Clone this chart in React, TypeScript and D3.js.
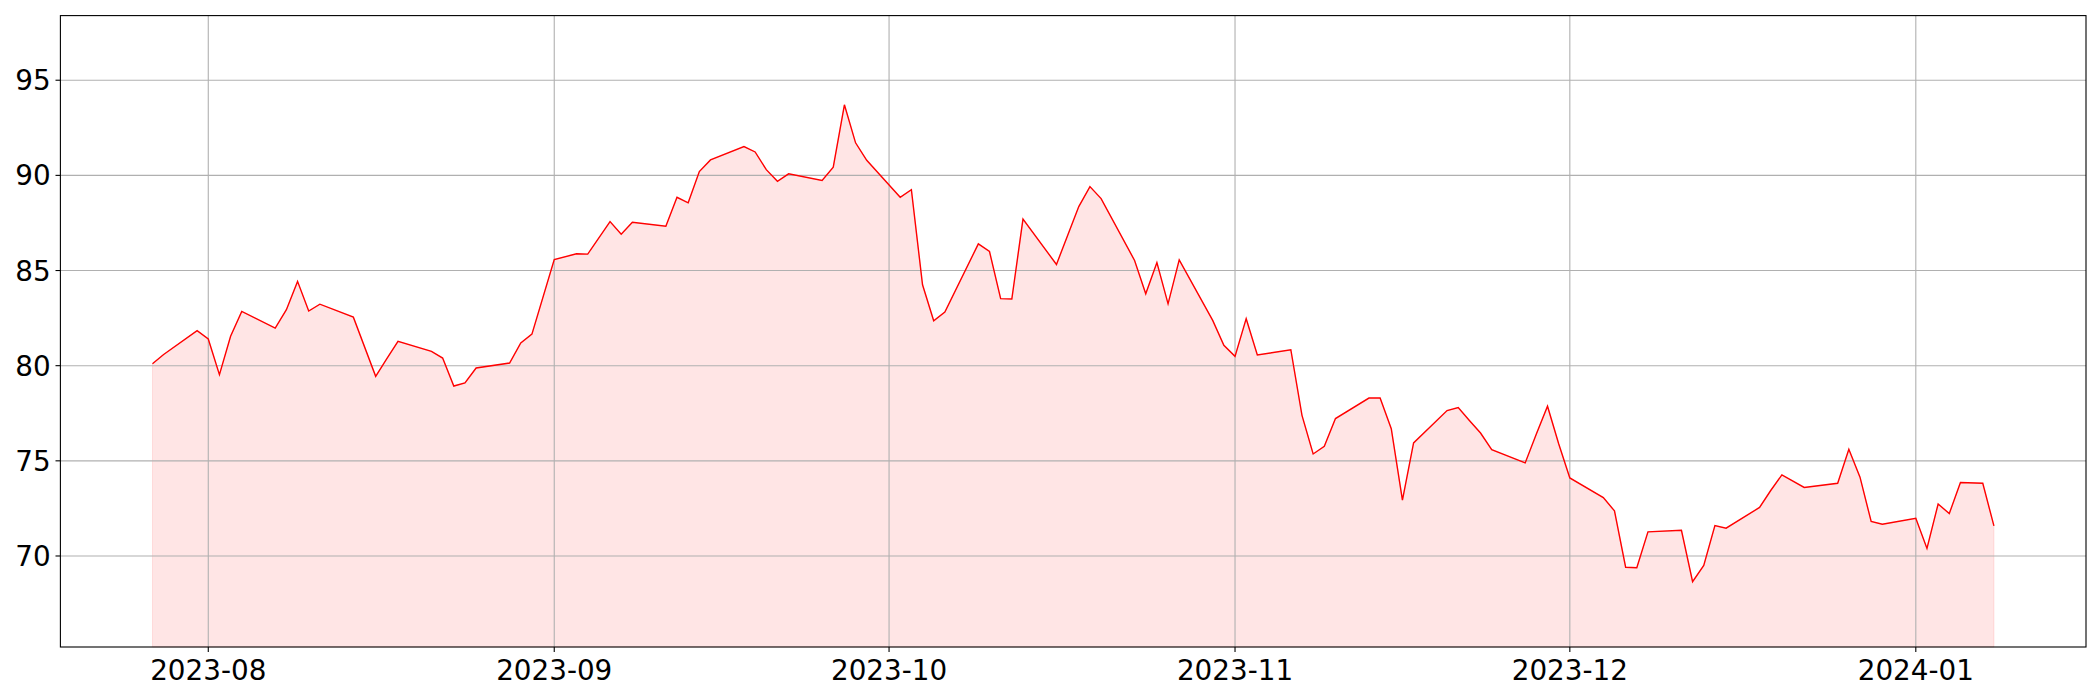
import React from "react";
import * as d3 from "d3";

const dates: string[] = [
  "2023-07-27","2023-07-28","2023-07-31","2023-08-01","2023-08-02","2023-08-03","2023-08-04",
  "2023-08-07","2023-08-08","2023-08-09","2023-08-10","2023-08-11","2023-08-14","2023-08-16",
  "2023-08-17","2023-08-18","2023-08-21","2023-08-22","2023-08-23","2023-08-24","2023-08-25",
  "2023-08-28","2023-08-29","2023-08-30","2023-09-01","2023-09-03","2023-09-04","2023-09-06",
  "2023-09-07","2023-09-08","2023-09-11","2023-09-12","2023-09-13","2023-09-14","2023-09-15",
  "2023-09-18","2023-09-19","2023-09-20","2023-09-21","2023-09-22","2023-09-25","2023-09-26",
  "2023-09-27","2023-09-28","2023-09-29","2023-10-02","2023-10-03","2023-10-04","2023-10-05",
  "2023-10-06","2023-10-09","2023-10-10","2023-10-11","2023-10-12","2023-10-13","2023-10-16",
  "2023-10-17","2023-10-18","2023-10-19","2023-10-20","2023-10-23","2023-10-24","2023-10-25",
  "2023-10-26","2023-10-27","2023-10-30","2023-10-31","2023-11-01","2023-11-02","2023-11-03",
  "2023-11-06","2023-11-07","2023-11-08","2023-11-09","2023-11-10","2023-11-13","2023-11-14",
  "2023-11-15","2023-11-16","2023-11-17","2023-11-20","2023-11-21","2023-11-22","2023-11-23",
  "2023-11-24","2023-11-27","2023-11-28","2023-11-29","2023-11-30","2023-12-01","2023-12-04",
  "2023-12-05","2023-12-06","2023-12-07","2023-12-08","2023-12-11","2023-12-12","2023-12-13",
  "2023-12-14","2023-12-15","2023-12-18","2023-12-19","2023-12-20","2023-12-22","2023-12-25",
  "2023-12-26","2023-12-27","2023-12-28","2023-12-29","2024-01-01","2024-01-02","2024-01-03",
  "2024-01-04","2024-01-05","2024-01-07","2024-01-08",
];

const values: number[] = [
  80.10, 80.59, 81.84, 81.40, 79.53, 81.55, 82.85,
  81.97, 82.94, 84.43, 82.87, 83.23, 82.55, 79.44,
  80.37, 81.28, 80.75, 80.40, 78.93, 79.09, 79.88,
  80.14, 81.19, 81.66, 85.58, 85.88, 85.86, 87.57,
  86.91, 87.54, 87.33, 88.85, 88.56, 90.20, 90.81,
  91.51, 91.23, 90.30, 89.69, 90.08, 89.73, 90.43,
  93.71, 91.71, 90.79, 88.85, 89.25, 84.25, 82.36,
  82.82, 86.40, 86.00, 83.52, 83.50, 87.70, 85.32,
  86.84, 88.36, 89.41, 88.78, 85.53, 83.78, 85.42,
  83.25, 85.56, 82.38, 81.07, 80.49, 82.47, 80.56,
  80.84, 77.39, 75.36, 75.76, 77.22, 78.30, 78.30,
  76.69, 72.93, 75.94, 77.64, 77.80, 77.12, 76.46,
  75.59, 74.89, 76.41, 77.87, 75.90, 74.10, 73.07,
  72.37, 69.41, 69.38, 71.27, 71.35, 68.65, 69.50,
  71.60, 71.46, 72.55, 73.44, 74.26, 73.60, 73.82,
  75.61, 74.14, 71.81, 71.67, 71.98, 70.40, 72.73,
  72.23, 73.86, 73.82, 71.58,
];

const yTicks: number[] = [70, 75, 80, 85, 90, 95];
const xTickFormat = "%Y-%m";

const W = 2100;
const H = 700;
const M = { left: 60.4, right: 2086, top: 15.6, bottom: 647 };

export default function App() {
  const parse = d3.timeParse("%Y-%m-%d");
  const pts = dates.map((d, i) => ({ date: parse(d) as Date, v: values[i] }));
  const t0 = pts[0].date.getTime();
  const t1 = pts[pts.length - 1].date.getTime();
  const pad = (t1 - t0) * 0.05;
  const x = d3.scaleTime().domain([new Date(t0 - pad), new Date(t1 + pad)]).range([M.left, M.right]);
  const vmin = d3.min(values) as number;
  const vmax = d3.max(values) as number;
  const y = d3.scaleLinear().domain([vmin * 0.95, vmax * 1.05]).range([M.bottom, M.top]);

  const line = d3.line<{ date: Date; v: number }>().x((d) => x(d.date)).y((d) => y(d.v));
  const area = d3
    .area<{ date: Date; v: number }>()
    .x((d) => x(d.date))
    .y0(() => y(vmin * 0.95))
    .y1((d) => y(d.v));

  const xTicks = d3.timeMonth.range(x.domain()[0], x.domain()[1]).filter((d) => x(d) >= M.left && x(d) <= M.right);
  const fmt = d3.timeFormat(xTickFormat);
  const font = "'DejaVu Sans', sans-serif";

  return (
    <svg width={W} height={H} style={{ position: "absolute", left: 0, top: 0, background: "#fff" }}>
      <rect x={0} y={0} width={W} height={H} fill="#fff" />
      <path d={area(pts) || ""} fill="#ff0000" fillOpacity={0.1} stroke="#ff0000" strokeOpacity={0.1} strokeWidth={1} />
      {/* grid */}
      {xTicks.map((d, i) => (
        <line key={"gx" + i} x1={x(d)} x2={x(d)} y1={M.top} y2={M.bottom} stroke="#b0b0b0" strokeWidth={1.1} />
      ))}
      {yTicks.map((v, i) => (
        <line key={"gy" + i} x1={M.left} x2={M.right} y1={y(v)} y2={y(v)} stroke="#b0b0b0" strokeWidth={1.1} />
      ))}
      <path d={line(pts) || ""} fill="none" stroke="#ff0000" strokeWidth={1.4} strokeLinejoin="miter" />
      {/* spines */}
      <rect x={M.left} y={M.top} width={M.right - M.left} height={M.bottom - M.top} fill="none" stroke="#000" strokeWidth={1.1} />
      {/* x ticks */}
      {xTicks.map((d, i) => (
        <g key={"xt" + i}>
          <line x1={x(d)} x2={x(d)} y1={M.bottom} y2={M.bottom + 4.9} stroke="#000" strokeWidth={1.1} />
          <text x={x(d)} y={680} textAnchor="middle" fontFamily={font} fontSize={27.8} fill="#000">
            {fmt(d)}
          </text>
        </g>
      ))}
      {/* y ticks */}
      {yTicks.map((v, i) => (
        <g key={"yt" + i}>
          <line x1={M.left - 4.9} x2={M.left} y1={y(v)} y2={y(v)} stroke="#000" strokeWidth={1.1} />
          <text x={M.left - 9.8} y={y(v) + 10} textAnchor="end" fontFamily={font} fontSize={27.8} fill="#000">
            {v}
          </text>
        </g>
      ))}
    </svg>
  );
}
